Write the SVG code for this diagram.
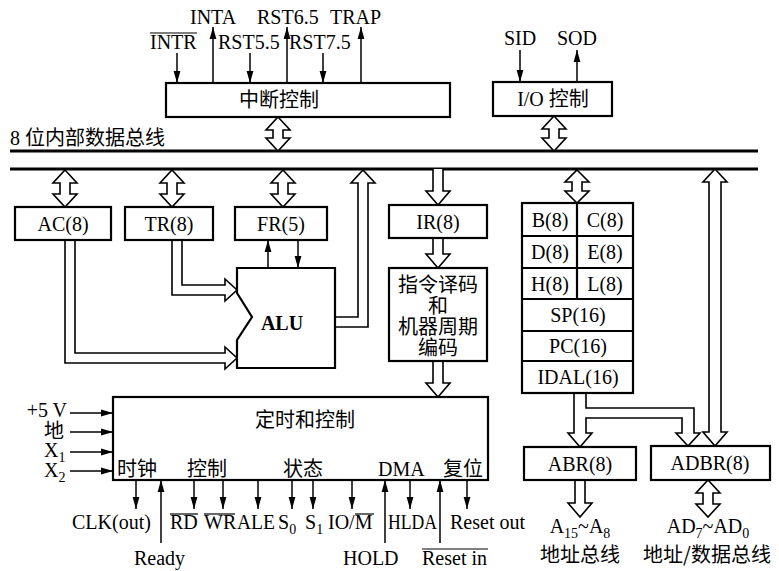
<svg xmlns="http://www.w3.org/2000/svg" width="779" height="571" viewBox="0 0 779 571">
<defs>
<style>
.box{fill:#fff;stroke:#000;stroke-width:2.2}
.ln{stroke:#000;stroke-width:1.5;fill:none}
.ol{stroke:#000;stroke-width:1.2}
.hol{fill:#fff;stroke:#000;stroke-width:1.6;stroke-linejoin:miter}
.bus{stroke:#000;stroke-width:3}
.t{font-family:"Liberation Serif","Noto Sans CJK SC",serif;font-size:20px;fill:#000}
.m{text-anchor:middle}
.c{font-family:"Noto Sans CJK SC",sans-serif;font-size:20px;fill:#000}
.sub{font-size:14px}
</style>
<marker id="ah" markerWidth="12" markerHeight="8" refX="12" refY="4" orient="auto" markerUnits="userSpaceOnUse"><path d="M0,0.6 L12,4 L0,7.4 Z" fill="#000"/></marker>
</defs>
<rect width="779" height="571" fill="#fff"/>

<g id="bus">
<line class="bus" x1="10" y1="151" x2="758" y2="151"/>
<line class="bus" x1="10" y1="169" x2="758" y2="169"/>
<text class="t" x="10" y="145">8 <tspan class="c">位内部数据总线</tspan></text>
</g>

<g id="connectors">
<line class="ln" x1="177" y1="53" x2="177" y2="83" marker-end="url(#ah)"/>
<line class="ln" x1="213" y1="83" x2="213" y2="27" marker-end="url(#ah)"/>
<line class="ln" x1="250" y1="53" x2="250" y2="83" marker-end="url(#ah)"/>
<line class="ln" x1="287" y1="83" x2="287" y2="27" marker-end="url(#ah)"/>
<line class="ln" x1="323" y1="53" x2="323" y2="83" marker-end="url(#ah)"/>
<line class="ln" x1="361" y1="83" x2="361" y2="27" marker-end="url(#ah)"/>
<line class="ln" x1="520" y1="50" x2="520" y2="82" marker-end="url(#ah)"/>
<line class="ln" x1="577" y1="82" x2="577" y2="50" marker-end="url(#ah)"/>
<path class="hol" d="M278,117 L290,130 L283,130 L283,138 L290,138 L278,151 L266,138 L273,138 L273,130 L266,130 Z"/>
<path class="hol" d="M554,116 L566,129 L559,129 L559,138 L566,138 L554,151 L542,138 L549,138 L549,129 L542,129 Z"/>
<path class="hol" d="M65,170 L77,183 L70,183 L70,194 L77,194 L65,207 L53,194 L60,194 L60,183 L53,183 Z"/>
<path class="hol" d="M172,170 L184,183 L177,183 L177,194 L184,194 L172,207 L160,194 L167,194 L167,183 L160,183 Z"/>
<path class="hol" d="M283,170 L295,183 L288,183 L288,194 L295,194 L283,207 L271,194 L278,194 L278,183 L271,183 Z"/>
<path class="hol" d="M577,170 L589,182 L582,182 L582,191 L589,191 L577,203 L565,191 L572,191 L572,182 L565,182 Z"/>
<path class="hol" d="M708,480 L720,493 L713,493 L713,504 L720,504 L708,517 L696,504 L703,504 L703,493 L696,493 Z"/>
<polyline class="hol" points="433,169 433,191 426,191 438,205 450,191 443,191 443,169"/>
<polyline class="hol" points="433,238 433,254 426,254 438,268 450,254 443,254 443,238"/>
<polyline class="hol" points="433,361 433,383 426,383 438,397 450,383 443,383 443,361"/>
<polyline class="hol" points="575,480 575,503 568,503 580,517 592,503 585,503 585,480"/>
<polyline class="hol" points="172,240 172,295 225,295 225,301 237,290 225,279 225,285 182,285 182,240"/>
<polyline class="hol" points="65,240 65,363 225,363 225,369 237,358 225,347 225,353 75,353 75,240"/>
<polyline class="hol" points="335,327 368,327 368,183 375,183 363,170 351,183 358,183 358,317 335,317"/>
<line class="ln" x1="268" y1="268" x2="268" y2="240" marker-end="url(#ah)"/>
<line class="ln" x1="298" y1="240" x2="298" y2="268" marker-end="url(#ah)"/>
<polyline class="hol" points="574,393 574,433 568,433 580,447 592,433 586,433 586,418 682,418 682,433 676,433 688,446 700,433 694,433 694,408 586,408 586,393"/>
<path class="hol" d="M715,169 L727,182 L721,182 L721,432 L727,432 L715,446 L703,432 L709,432 L709,182 L703,182 Z"/>
<line class="ln" x1="70" y1="413" x2="113" y2="413" marker-end="url(#ah)"/>
<line class="ln" x1="70" y1="432" x2="113" y2="432" marker-end="url(#ah)"/>
<line class="ln" x1="70" y1="452" x2="113" y2="452" marker-end="url(#ah)"/>
<line class="ln" x1="70" y1="471" x2="113" y2="471" marker-end="url(#ah)"/>
<line class="ln" x1="136" y1="480" x2="136" y2="509" marker-end="url(#ah)"/>
<line class="ln" x1="161" y1="543" x2="161" y2="480" marker-end="url(#ah)"/>
<line class="ln" x1="194" y1="480" x2="194" y2="509" marker-end="url(#ah)"/>
<line class="ln" x1="223" y1="480" x2="223" y2="509" marker-end="url(#ah)"/>
<line class="ln" x1="258" y1="480" x2="258" y2="509" marker-end="url(#ah)"/>
<line class="ln" x1="292" y1="480" x2="292" y2="509" marker-end="url(#ah)"/>
<line class="ln" x1="313" y1="480" x2="313" y2="509" marker-end="url(#ah)"/>
<line class="ln" x1="352" y1="480" x2="352" y2="509" marker-end="url(#ah)"/>
<line class="ln" x1="385" y1="543" x2="385" y2="480" marker-end="url(#ah)"/>
<line class="ln" x1="410" y1="480" x2="410" y2="509" marker-end="url(#ah)"/>
<line class="ln" x1="440" y1="543" x2="440" y2="480" marker-end="url(#ah)"/>
<line class="ln" x1="467" y1="480" x2="467" y2="509" marker-end="url(#ah)"/>
</g>

<g id="int-ctrl">
<rect class="box" x="166" y="83" width="284" height="34"/>
<text class="c m" x="279" y="107">中断控制</text>
<text class="t" x="150" y="49">INTR</text>
<line class="ol" x1="150" y1="33" x2="197" y2="33"/>
<text class="t" x="190" y="24">INTA</text>
<text class="t" x="218" y="49">RST5.5</text>
<text class="t" x="257" y="24">RST6.5</text>
<text class="t" x="289" y="49">RST7.5</text>
<text class="t" x="330" y="24">TRAP</text>
</g>

<g id="io-ctrl">
<rect class="box" x="493" y="82" width="119" height="34"/>
<text class="t m" x="553" y="106">I/O <tspan class="c">控制</tspan></text>
<text class="t" x="504" y="45">SID</text>
<text class="t" x="557" y="45">SOD</text>
</g>

<g id="ac"><rect class="box" x="15" y="207" width="96" height="33"/><text class="t m" x="63" y="231">AC(8)</text></g>
<g id="tr"><rect class="box" x="125" y="207" width="88" height="33"/><text class="t m" x="169" y="231">TR(8)</text></g>
<g id="fr"><rect class="box" x="235" y="207" width="92" height="33"/><text class="t m" x="281" y="231">FR(5)</text></g>

<g id="alu">
<path class="box" d="M237,268 L335,268 L335,368 L237,368 L237,340 L252,317 L237,293 Z"/>
<text class="t m" x="282" y="330" font-weight="bold">ALU</text>
</g>

<g id="ir"><rect class="box" x="389" y="205" width="98" height="33"/><text class="t m" x="438" y="229">IR(8)</text></g>

<g id="decoder">
<rect class="box" x="389" y="268" width="98" height="93"/>
<text class="c m" x="438" y="292">指令译码</text>
<text class="c m" x="438" y="313">和</text>
<text class="c m" x="438" y="334">机器周期</text>
<text class="c m" x="438" y="355">编码</text>
</g>

<g id="regs">
<rect class="box" x="522" y="203" width="111" height="190"/>
<line class="box" x1="522" y1="236" x2="633" y2="236"/>
<line class="box" x1="522" y1="268" x2="633" y2="268"/>
<line class="box" x1="522" y1="299" x2="633" y2="299"/>
<line class="box" x1="522" y1="331" x2="633" y2="331"/>
<line class="box" x1="522" y1="361" x2="633" y2="361"/>
<line class="box" x1="577" y1="203" x2="577" y2="299"/>
<text class="t m" x="550" y="227">B(8)</text>
<text class="t m" x="605" y="227">C(8)</text>
<text class="t m" x="550" y="259">D(8)</text>
<text class="t m" x="605" y="259">E(8)</text>
<text class="t m" x="550" y="291">H(8)</text>
<text class="t m" x="605" y="291">L(8)</text>
<text class="t m" x="578" y="322">SP(16)</text>
<text class="t m" x="578" y="353">PC(16)</text>
<text class="t m" x="578" y="384">IDAL(16)</text>
</g>

<g id="timing">
<rect class="box" x="113" y="397" width="375" height="83"/>
<text class="c" x="255" y="427">定时和控制</text>
<text class="c" x="117" y="476">时钟</text>
<text class="c" x="187" y="476">控制</text>
<text class="c" x="283" y="476">状态</text>
<text class="t" x="378" y="476">DMA</text>
<text class="c" x="443" y="476">复位</text>
<text class="t" x="67" y="417" text-anchor="end">+5 V</text>
<text class="c" x="64" y="438" text-anchor="end">地</text>
<text class="t" x="44" y="457">X<tspan class="sub" dy="5">1</tspan></text>
<text class="t" x="44" y="477">X<tspan class="sub" dy="5">2</tspan></text>
<text class="t" x="72" y="529">CLK(out)</text>
<text class="t" x="134" y="565">Ready</text>
<text class="t" x="170" y="529">RD</text>
<line class="ol" x1="170" y1="514" x2="198" y2="514"/>
<text class="t" x="204" y="529">WR</text>
<line class="ol" x1="204" y1="514" x2="235" y2="514"/>
<text class="t" x="237" y="529" textLength="38" lengthAdjust="spacingAndGlyphs">ALE</text>
<text class="t" x="278" y="529">S<tspan class="sub" dy="5">0</tspan></text>
<text class="t" x="305" y="529">S<tspan class="sub" dy="5">1</tspan></text>
<text class="t" x="328" y="529">IO/M</text>
<line class="ol" x1="355" y1="514" x2="374" y2="514"/>
<text class="t" x="388" y="529" textLength="49" lengthAdjust="spacingAndGlyphs">HLDA</text>
<text class="t" x="450" y="529">Reset out</text>
<text class="t" x="343" y="565">HOLD</text>
<text class="t" x="422" y="565">Reset in</text>
<line class="ol" x1="422" y1="549" x2="488" y2="549"/>
</g>

<g id="abr">
<rect class="box" x="524" y="447" width="112" height="33"/>
<text class="t m" x="580" y="471">ABR(8)</text>
<text class="t m" x="580" y="533">A<tspan class="sub" dy="5">15</tspan><tspan dy="-5">~A</tspan><tspan class="sub" dy="5">8</tspan></text>
<text class="c m" x="580" y="562">地址总线</text>
</g>

<g id="adbr">
<rect class="box" x="651" y="446" width="119" height="34"/>
<text class="t m" x="710" y="470">ADBR(8)</text>
<text class="t m" x="708" y="533">AD<tspan class="sub" dy="5">7</tspan><tspan dy="-5">~AD</tspan><tspan class="sub" dy="5">0</tspan></text>
<text class="c m" x="707" y="562">地址/数据总线</text>
</g>
</svg>
